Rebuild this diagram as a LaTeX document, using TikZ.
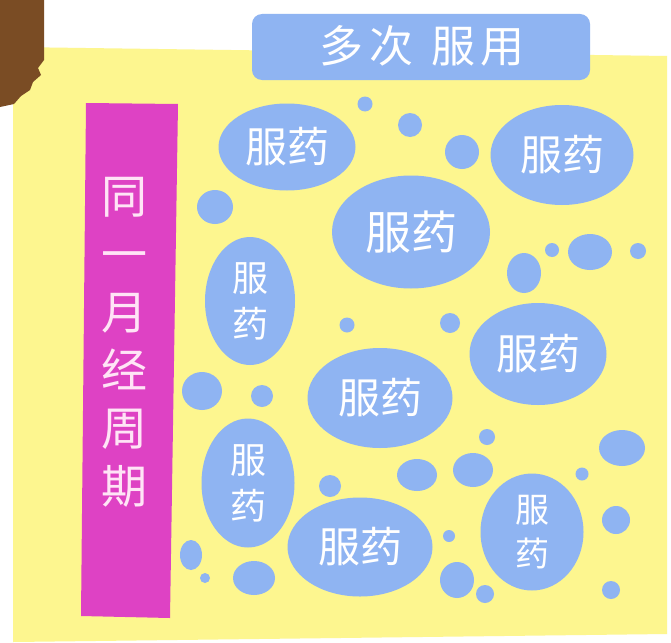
\documentclass[tikz,border=0pt]{standalone}
\usepackage{fontspec}
\newfontfamily\cjk{Noto Sans CJK SC}
\usetikzlibrary{shapes.geometric}
\definecolor{pillblue}{RGB}{143,180,242}
\definecolor{padyellow}{RGB}{253,246,143}
\definecolor{barpink}{RGB}{222,66,196}
\definecolor{barfont}{RGB}{255,228,246}
\definecolor{cornerbrown}{RGB}{122,76,36}
\tikzset{
  pill/.style={ellipse, fill=pillblue, inner sep=0pt, text=white, align=center},
  bigfont/.style={font=\cjk\fontsize{42}{48}\selectfont},
  smallfont/.style={font=\cjk\fontsize{36}{46}\selectfont},
}
\begin{document}
\begin{tikzpicture}[x=1pt,y=-1pt]
      \useasboundingbox (0,0) rectangle (671,642);
      \fill[white] (0,0) rectangle (671,642);
      \fill[padyellow] (13,47) -- (667,56) -- (667,634) -- (13,642) -- cycle;
      \fill[cornerbrown] (0,0) -- (44,0) -- (44,60) -- (38,68) -- (41,75) -- (33,82) -- (30,90) -- (21,96) -- (14,104) -- (0,107) -- cycle;
      \fill[barpink] (86,103) -- (178,104) -- (170,618) -- (81,616) -- cycle;
      \node[fill=pillblue, rounded corners=10pt, minimum width=338pt, minimum height=66pt] (title) at (421,47) {};
      \node[text=white, font=\cjk\fontsize{44}{50}\selectfont] (titletext) at (422,46) {多\hspace{6pt}次\hspace{18pt}服\hspace{5pt}用};
      \node[text=barfont, align=center, font=\cjk\fontsize{46}{58}\selectfont] (cycle) at (124,342) {同\\一\\月\\经\\周\\期};
      % small pills
      \fill[pillblue] (365,104) circle (7.5);
      \fill[pillblue] (410,125) circle (12);
      \fill[pillblue] (462,152) ellipse (17 and 17);
      \fill[pillblue] (215,207) ellipse (18 and 17);
      \fill[pillblue] (552,250) circle (7);
      \fill[pillblue] (590,252) ellipse (22 and 18);
      \fill[pillblue] (638,251) circle (8);
      \fill[pillblue] (524,273) ellipse (17 and 20);
      \fill[pillblue] (450,323) circle (10);
      \fill[pillblue] (347,325) circle (7.5);
      \fill[pillblue] (202,391) ellipse (20 and 19);
      \fill[pillblue] (262,396) circle (11);
      \fill[pillblue] (330,486) circle (11);
      \fill[pillblue] (417,475) ellipse (20 and 16);
      \fill[pillblue] (487,437) circle (8);
      \fill[pillblue] (473,470) ellipse (20 and 17);
      \fill[pillblue] (622,448) ellipse (23 and 18);
      \fill[pillblue] (582,474) circle (6.5);
      \fill[pillblue] (616,520) circle (14);
      \fill[pillblue] (449,536) circle (6);
      \fill[pillblue] (191,555) ellipse (11 and 15);
      \fill[pillblue] (205,578) circle (5);
      \fill[pillblue] (254,578) ellipse (21 and 17);
      \fill[pillblue] (457,580) ellipse (17 and 18);
      \fill[pillblue] (485,594) circle (9);
      \fill[pillblue] (611,590) circle (9);
      % big pills
      \node[pill, bigfont, minimum width=137pt, minimum height=87pt] (dose1) at (287,147) {服药};
      \node[pill, bigfont, minimum width=143pt, minimum height=100pt] (dose2) at (562,155) {服药};
      \node[pill, font=\cjk\fontsize{46}{52}\selectfont, minimum width=158pt, minimum height=113pt] (dose3) at (411,232) {服药};
      \node[pill, smallfont, minimum width=90pt, minimum height=128pt] (dose4) at (250,301) {服\\药};
      \node[pill, bigfont, minimum width=137pt, minimum height=102pt] (dose5) at (538,354) {服药};
      \node[pill, bigfont, minimum width=145pt, minimum height=100pt] (dose6) at (380,398) {服药};
      \node[pill, smallfont, minimum width=93pt, minimum height=129pt] (dose7) at (248,483) {服\\药};
      \node[pill, bigfont, minimum width=145pt, minimum height=99pt] (dose8) at (360,547) {服药};
      \node[pill, font=\cjk\fontsize{34}{44}\selectfont, minimum width=103pt, minimum height=117pt] (dose9) at (532,532) {服\\药};
    \end{tikzpicture}
\end{document}
